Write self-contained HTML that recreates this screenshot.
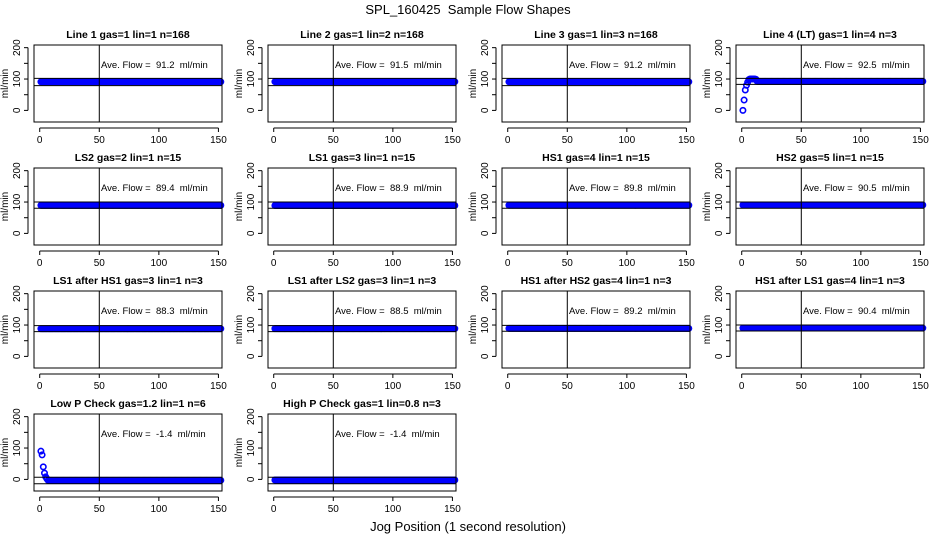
<!DOCTYPE html>
<html><head><meta charset="utf-8"><style>
body{margin:0;background:#fff}
svg{display:block;font-family:"Liberation Sans",sans-serif}
text{white-space:pre}
</style></head><body>
<svg id="c" width="936" height="540"></svg>
<script>
const titles=["Line 1 gas=1 lin=1 n=168","Line 2 gas=1 lin=2 n=168","Line 3 gas=1 lin=3 n=168","Line 4 (LT) gas=1 lin=4 n=3",
"LS2 gas=2 lin=1 n=15","LS1 gas=3 lin=1 n=15","HS1 gas=4 lin=1 n=15","HS2 gas=5 lin=1 n=15",
"LS1 after HS1 gas=3 lin=1 n=3","LS1 after LS2 gas=3 lin=1 n=3","HS1 after HS2 gas=4 lin=1 n=3","HS1 after LS1 gas=4 lin=1 n=3",
"Low P Check gas=1.2 lin=1 n=6","High P Check gas=1 lin=0.8 n=3"];
const aveFlow=[91.2,91.5,91.2,92.5,89.4,88.9,89.8,90.5,88.3,88.5,89.2,90.4,-1.4,-1.4];
const steady=[91.2,91.5,91.2,92.5,89.4,88.9,89.8,90.5,88.3,88.5,89.2,90.4,-3,-2];
const startVals=[[],[],[],[0,33,65,80,90,98,100,100,100,100,100,99],[],[],[],[],[],[],[],[],[90,78,40,20,8,2],[]];
const bandHi=[102,102,102,102,100,100,100,100,98,98,99,100,7,7];
const bandLo=[79,79,79,83,80,80,80,80,79,79,80,81,-14,-14];
const xTicks=[0,50,100,150];
const yTicks=[0,100,200];
const nPts=152;
const NS="http://www.w3.org/2000/svg";
const svg=document.getElementById('c');
function mk(t,a,p){const e=document.createElementNS(NS,t);for(const k in a)e.setAttribute(k,a[k]);(p||svg).appendChild(e);return e;}
const t0=mk('text',{x:468,y:14,'text-anchor':'middle','font-size':13});t0.textContent="SPL_160425  Sample Flow Shapes";


const t1=mk('text',{x:468,y:531,'text-anchor':'middle','font-size':13});t1.textContent="Jog Position (1 second resolution)";


const W=188,H=77,XMIN=-4.8,XMAX=153,YMIN=-37,YMAX=208.5;
titles.forEach((ti,i)=>{
 const c=i%4,r=Math.floor(i/4);
 const L=34+234*c,T=45+123*r;
 const g=mk('g',{});
 
 
 const sx=v=>L+(v-XMIN)/(XMAX-XMIN)*W, sy=v=>T+H-(v-YMIN)/(YMAX-YMIN)*H;
 const tt=mk('text',{x:L+W/2,y:T-7,'text-anchor':'middle','font-size':10.5,'font-weight':'bold'},g);tt.textContent=ti;
 
 
 const sv=startVals[i];
 for(let k=0;k<nPts;k++){
  const v=k<sv.length?sv[k]:steady[i];
  const p=mk('circle',{cx:sx(k+1),cy:sy(v),r:2.7,fill:'none',stroke:'#0000ff','stroke-width':1.6},g);
  
  
 }
 [bandHi[i],bandLo[i]].forEach(b=>{const l=mk('line',{x1:L,x2:L+W,y1:sy(b),y2:sy(b),stroke:'#000'},g);
  
  });
 const vl=mk('line',{x1:sx(50),x2:sx(50),y1:T,y2:T+H,stroke:'#000'},g);
 
 
 const bx=mk('rect',{x:L,y:T,width:W,height:H,fill:'none',stroke:'#000'},g);
 
 
 const at=mk('text',{x:L+67,y:T+23,'font-size':9.5},g);
 at.textContent="Ave. Flow =  "+aveFlow[i].toFixed(1)+"  ml/min";
 
 
 mk('line',{x1:sx(0),x2:sx(150),y1:T+H+6,y2:T+H+6,stroke:'#000'},g);
 xTicks.forEach(v=>{mk('line',{x1:sx(v),x2:sx(v),y1:T+H+6,y2:T+H+10,stroke:'#000'},g);
  const tx=mk('text',{x:sx(v),y:T+H+21,'text-anchor':'middle','font-size':10},g);tx.textContent=v;
  
  });
 mk('line',{x1:L-6,x2:L-6,y1:sy(0),y2:sy(200),stroke:'#000'},g);
 for(let v=0;v<=200;v+=50)mk('line',{x1:L-10,x2:L-6,y1:sy(v),y2:sy(v),stroke:'#000'},g);
 yTicks.forEach(v=>{const ty=mk('text',{x:L-14,y:sy(v),'text-anchor':'middle','font-size':10,transform:`rotate(-90 ${L-14} ${sy(v)})`},g);ty.textContent=v;
  
  });
 const yl=mk('text',{x:L-26,y:T+H/2,'text-anchor':'middle','font-size':10,transform:`rotate(-90 ${L-26} ${T+H/2})`},g);yl.textContent="ml/min";
 
 
});
</script>
</body></html>
